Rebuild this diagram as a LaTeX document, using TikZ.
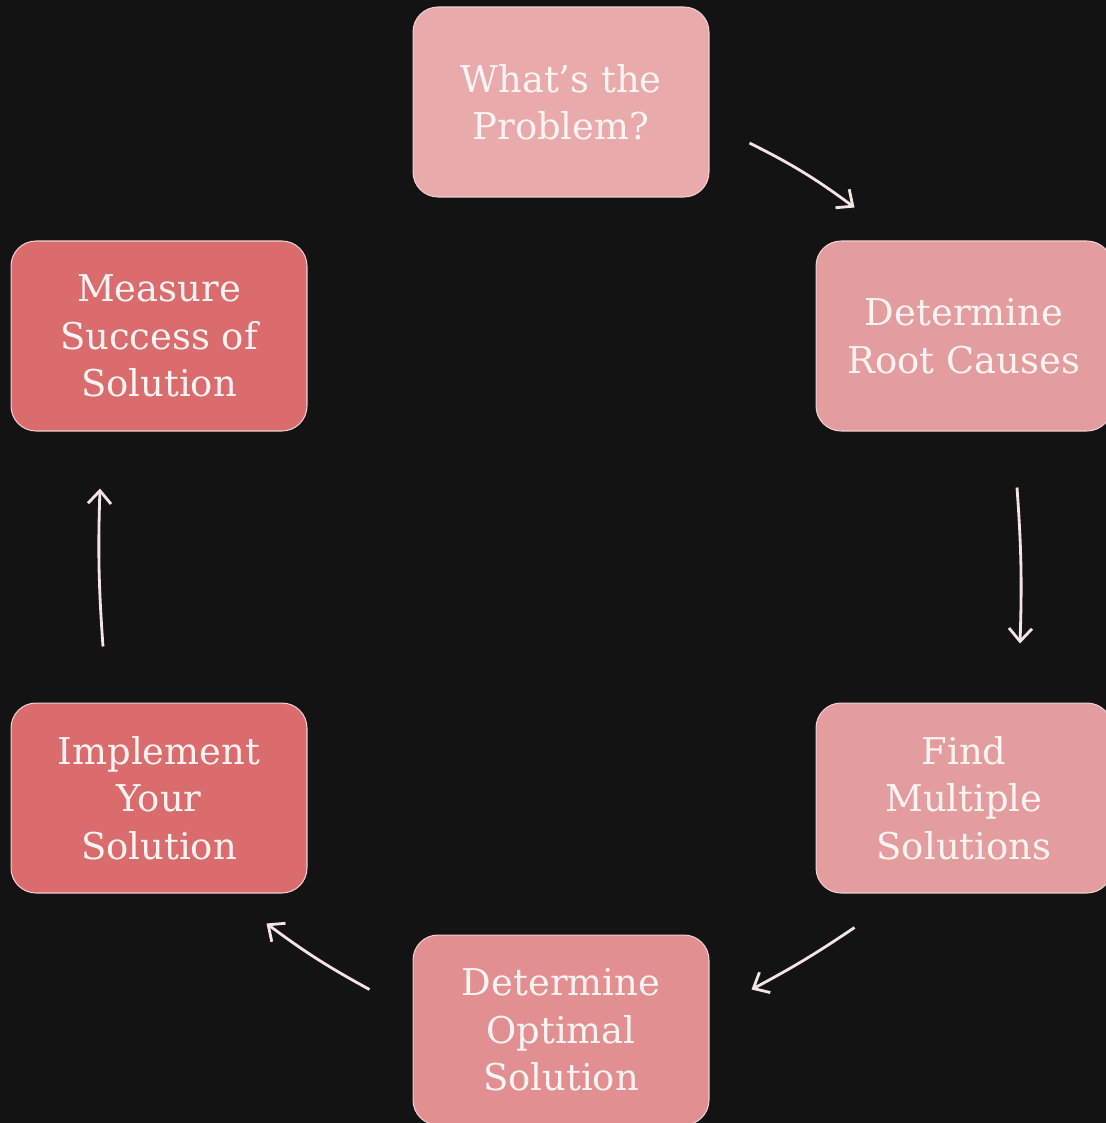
\documentclass[tikz,border=0pt]{standalone}
\usepackage{fontspec}
\setmainfont{DejaVu Serif}
\usetikzlibrary{positioning}
\usetikzlibrary{arrows.meta}
\definecolor{bg_col}{HTML}{131313}
\definecolor{arrow_col}{HTML}{F6E4E4}
\definecolor{text_col}{HTML}{FFF4F4}
\definecolor{edge_col}{HTML}{F3D0D0}
\tikzset{
        stagebox/.style={rectangle, rounded corners=0.5cm, draw=edge_col, line width=0.6pt, align=center,
            text=text_col, minimum width=5.92cm, minimum height=3.8cm, inner sep=0pt,
            font=\fontsize{21}{27}\selectfont},
        % Pale boxes
        box_top/.style={stagebox, fill={rgb,255:red,232;green,170;blue,171}},
        box_right/.style={stagebox, fill={rgb,255:red,228;green,157;blue,158}},
        box_bottom/.style={stagebox, fill={rgb,255:red,225;green,143;blue,144}},
        % Dark boxes
        box_left/.style={stagebox, fill={rgb,255:red,218;green,108;blue,109}},
        % Cycle arrows
        cycle_arrow/.style={-{Straight Barb[length=2.6mm, width=4.6mm]}, draw=arrow_col, line width=1.6pt}
}
\begin{document}
\begin{tikzpicture}[x=0.02cm, y=-0.02cm]
    \fill[bg_col] (0,0) rectangle (1106,1123);
    \useasboundingbox (0,0) rectangle (1106,1123);

    \node[box_top] (problem) at (561,102) {What's the\\Problem?};
    \node[box_right] (causes) at (964,336) {Determine\\Root Causes};
    \node[box_right] (multiple) at (964,798) {Find\\Multiple\\Solutions};
    \node[box_bottom] (optimal) at (561,1030) {Determine\\Optimal\\Solution};
    \node[box_left] (implement) at (159,798) {Implement\\Your\\Solution};
    \node[box_left] (measure) at (159,336) {Measure\\Success of\\Solution};

    % arrow ends, placed off the boxes
    \path (problem.east) ++(40,41) coordinate (a1_s);
    \path (causes.north west) ++(39,-33) coordinate (a1_e);
    \path (causes.south) ++(53,56) coordinate (a2_s);
    \path (multiple.north) ++(56,-59) coordinate (a2_e);
    \path (multiple.south west) ++(39,34) coordinate (a3_s);
    \path (optimal.north east) ++(42,55) coordinate (a3_e);
    \path (optimal.north west) ++(-43,55) coordinate (a4_s);
    \path (implement.north east) ++(-41,221) coordinate (a4_e);
    \path (implement.north) ++(-56,-56) coordinate (a5_s);
    \path (measure.south) ++(-59,57) coordinate (a5_e);

    \draw[cycle_arrow] (a1_s) to[bend left=5] (a1_e);
    \draw[cycle_arrow] (a2_s) to[bend left=3] (a2_e);
    \draw[cycle_arrow] (a3_s) to[bend left=3] (a3_e);
    \draw[cycle_arrow] (a4_s) to[bend left=4] (a4_e);
    \draw[cycle_arrow] (a5_s) to[bend left=3] (a5_e);
\end{tikzpicture}
\end{document}
